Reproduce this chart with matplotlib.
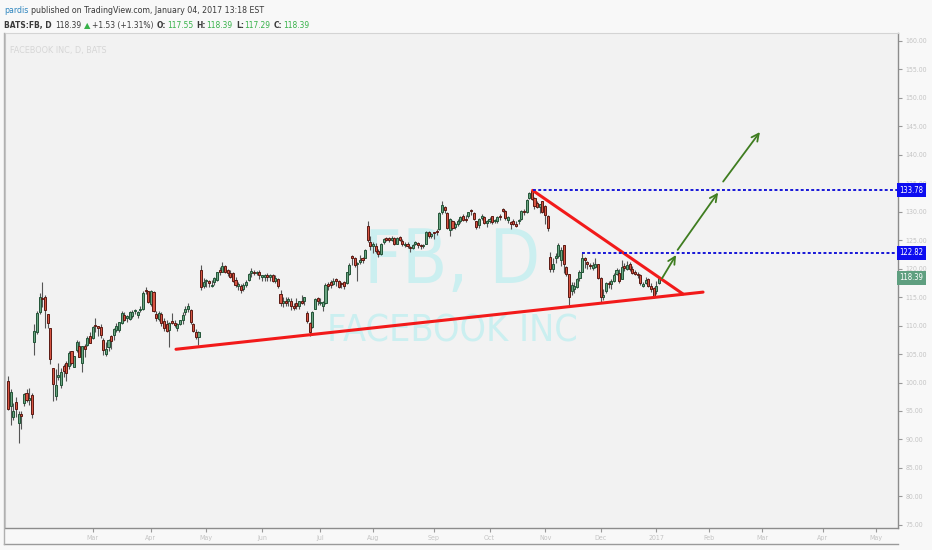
import matplotlib
matplotlib.use("Agg")
import matplotlib.pyplot as plt
from matplotlib import font_manager
from matplotlib.font_manager import FontProperties
from matplotlib.lines import Line2D
import numpy as np

# ---- daily FB candles, 13 Jan 2016 .. 4 Jan 2017 ----
opens = [
    100.3, 95.9, 93.9, 96.5, 92.8, 94.3, 96.4, 98.1, 97.0, 97.8, 107.2, 108.9,  # jan
    112.3, 114.8, 115.1, 112.0, 109.5, 102.5, 97.7, 101.0, 99.5, 102.9, 103.5, 102.9, 105.5, 102.8, 105.7, 106.5, 103.4, 106.5, 106.6, 108.1,  # feb
    107.8, 110.0, 109.9, 109.7, 107.4, 105.0, 106.2, 108.1, 108.3, 109.2, 109.2, 110.5, 111.9, 111.4, 111.1, 111.6, 112.5, 111.9, 112.8, 112.9, 116.3, 116.0,  # mar
    113.8, 115.9, 112.1, 111.2, 112.0, 110.8, 110.2, 109.3, 110.8, 110.5, 109.6, 110.3, 111.0, 112.3, 113.0, 112.8, 110.3, 108.9, 108.0, 119.8, 117.0,  # apr
    117.8, 117.9, 117.0, 117.6, 118.0, 119.6, 119.5, 120.4, 119.8, 119.3, 119.2, 118.0, 117.0, 117.0, 116.4, 117.2, 118.0, 119.2, 119.5, 119.2, 119.5,  # may
    118.5, 118.5, 118.9, 118.6, 118.9, 117.9, 118.1, 115.5, 113.9, 114.3, 114.3, 114.3, 113.5, 114.0, 113.5, 114.4, 114.4, 112.2, 110.5, 109.8, 113.0, 114.9,  # jun
    114.0, 113.5, 113.9, 117.3, 117.6, 117.3, 118.2, 117.9, 117.5, 117.7, 117.4, 119.0, 122.2, 121.9, 120.8, 121.2, 121.9, 121.9, 127.5, 124.7,  # jul
    123.9, 124.0, 123.1, 122.5, 124.7, 125.3, 125.3, 125.1, 125.3, 124.4, 125.6, 124.9, 124.2, 124.4, 123.8, 123.7, 124.3, 124.5, 124.0, 124.0, 124.4, 126.5, 125.8,  # aug
    126.3, 126.7, 127.0, 130.0, 130.9, 129.7, 126.8, 128.3, 127.3, 127.9, 128.4, 129.3, 128.7, 129.3, 130.2, 129.8, 128.3, 127.6, 128.9, 129.1, 128.1,  # sep
    128.4, 129.2, 128.4, 128.4, 129.1, 130.3, 130.2, 128.6, 128.2, 128.3, 127.9, 128.4, 128.8, 130.1, 130.0, 132.5, 133.6, 132.4, 131.5, 130.8, 131.8,  # oct
    131.0, 129.2, 122.0, 119.9, 121.9, 122.2, 121.5, 124.1, 120.3, 119.1, 116.0, 116.4, 116.8, 118.3, 119.5, 121.9, 121.2, 120.5, 120.1, 120.3, 120.8,  # nov
    118.4, 115.1, 116.0, 117.4, 117.3, 117.9, 119.1, 119.3, 118.2, 120.3, 120.0, 120.9, 119.9, 119.5, 119.0, 118.9, 117.0, 117.5, 118.2, 117.0, 116.6,  # dec
    116.0, 117.55,  # jan 2017
]
highs = [
    101.2, 98.9, 96.4, 97.4, 95.0, 95.0, 98.1, 98.8, 99.1, 98.2, 110.3, 112.5,
    115.7, 117.6, 115.3, 112.0, 109.5, 102.6, 102.4, 103.5, 102.6, 103.2, 103.8, 105.5, 105.5, 104.7, 107.4, 107.3, 106.5, 106.8, 108.2, 108.8,
    109.9, 111.3, 110.0, 110.2, 107.8, 107.1, 107.6, 108.4, 109.6, 110.4, 110.7, 112.6, 112.4, 111.9, 112.6, 112.8, 112.9, 112.6, 113.4, 116.0, 116.8, 116.1,
    116.3, 116.1, 112.6, 112.5, 112.3, 111.3, 111.0, 110.6, 112.2, 111.0, 110.5, 111.0, 112.3, 113.4, 114.0, 112.9, 110.5, 109.4, 109.0, 120.7, 118.3,
    118.2, 118.0, 118.0, 118.5, 119.5, 120.3, 121.2, 120.7, 120.0, 119.8, 119.5, 118.5, 117.6, 117.3, 117.4, 118.0, 119.3, 120.1, 119.8, 119.6, 119.8,
    118.9, 119.0, 119.2, 119.0, 119.0, 118.8, 118.3, 116.3, 115.0, 115.1, 115.0, 114.9, 114.0, 114.8, 114.4, 115.3, 115.1, 112.6, 110.6, 112.5, 114.9, 115.1,
    114.9, 114.4, 117.5, 117.6, 118.0, 118.3, 118.4, 118.0, 117.7, 117.8, 119.5, 121.0, 122.4, 122.0, 121.2, 122.4, 122.0, 123.5, 128.3, 125.8,
    124.6, 124.5, 123.4, 124.5, 125.4, 125.6, 125.5, 125.8, 125.6, 125.6, 125.8, 125.2, 124.6, 124.6, 124.0, 124.4, 124.9, 124.7, 124.3, 124.4, 126.7, 126.6, 126.3,
    126.5, 127.0, 129.9, 131.8, 131.0, 129.9, 128.9, 128.5, 128.2, 128.7, 129.2, 129.6, 129.4, 130.0, 130.4, 129.9, 128.4, 128.9, 129.6, 129.3, 128.5,
    129.1, 129.3, 128.8, 129.2, 129.6, 130.7, 130.3, 129.3, 128.4, 128.7, 128.3, 128.8, 130.3, 130.5, 132.2, 133.5, 133.78, 132.6, 131.9, 131.4, 131.9,
    131.1, 129.5, 123.0, 121.9, 122.7, 124.5, 123.8, 124.2, 120.5, 119.1, 117.6, 117.6, 118.3, 119.7, 122.82, 122.0, 121.4, 121.0, 121.2, 121.8, 120.9,
    118.5, 116.5, 117.7, 117.8, 118.2, 119.2, 120.1, 119.9, 121.6, 121.0, 121.3, 121.2, 120.4, 119.8, 119.4, 119.0, 117.6, 118.6, 118.3, 117.5, 116.8,
    117.8, 118.39,
]
lows = [
    95.1, 92.5, 93.5, 93.9, 89.4, 91.9, 95.9, 96.6, 96.1, 93.8, 104.8, 108.6,
    112.0, 113.2, 109.6, 109.6, 103.3, 96.8, 97.0, 100.4, 99.0, 101.0, 100.2, 102.4, 103.1, 102.8, 105.4, 104.4, 101.9, 104.4, 106.4, 106.9,
    107.6, 108.8, 108.1, 107.8, 104.9, 104.6, 105.6, 105.8, 107.5, 108.8, 108.9, 110.3, 110.8, 110.6, 110.9, 111.3, 112.0, 111.3, 112.3, 112.7, 115.6, 113.9,
    113.4, 112.4, 110.8, 110.8, 109.9, 109.0, 108.9, 106.3, 110.2, 109.8, 109.1, 110.1, 110.2, 111.8, 112.3, 110.2, 108.8, 107.7, 106.6, 116.3, 116.6,
    116.7, 116.8, 116.8, 117.2, 117.8, 118.9, 119.4, 119.3, 118.7, 118.3, 117.6, 116.8, 116.3, 115.7, 116.1, 116.8, 117.9, 118.6, 118.9, 118.8, 118.2,
    117.8, 117.9, 117.9, 117.9, 117.6, 117.5, 116.6, 113.5, 113.2, 113.4, 113.5, 112.7, 112.8, 112.9, 113.0, 113.8, 113.6, 110.5, 108.2, 109.5, 112.9, 113.6,
    113.6, 112.6, 113.8, 116.3, 116.6, 117.2, 117.0, 116.6, 116.6, 116.5, 117.3, 118.8, 120.6, 120.3, 117.8, 120.9, 121.0, 121.8, 124.6, 123.3,
    122.7, 122.7, 122.1, 122.4, 124.4, 124.8, 124.7, 124.9, 124.2, 124.3, 124.9, 124.0, 123.8, 123.6, 123.0, 123.4, 124.1, 123.6, 123.4, 123.6, 124.3, 125.4, 125.3,
    125.2, 125.9, 126.8, 129.6, 129.7, 127.0, 125.7, 126.8, 126.9, 127.5, 128.0, 128.4, 128.2, 128.9, 129.5, 128.6, 127.0, 127.2, 128.6, 127.8, 127.4,
    128.1, 127.9, 128.0, 128.1, 128.5, 129.9, 128.6, 128.1, 127.0, 127.6, 127.3, 127.9, 128.6, 129.4, 129.8, 132.2, 132.0, 130.5, 130.6, 129.8, 129.8,
    127.8, 126.6, 119.5, 119.5, 121.0, 121.8, 120.5, 119.2, 118.7, 113.6, 115.3, 115.8, 116.6, 117.9, 119.4, 120.2, 120.0, 119.9, 119.8, 120.2, 118.1,
    114.0, 114.5, 115.8, 116.6, 116.4, 117.6, 118.9, 117.5, 118.1, 119.6, 119.8, 119.6, 119.0, 118.9, 118.3, 117.1, 116.8, 117.3, 116.7, 115.9, 114.8,
    115.5, 117.29,
]
closes = [
    95.4, 98.4, 95.0, 95.3, 94.4, 94.2, 97.9, 97.0, 97.3, 94.5, 109.1, 112.2,
    115.1, 114.6, 112.7, 110.5, 104.1, 99.8, 99.5, 101.3, 101.9, 102.0, 101.6, 105.2, 103.5, 104.6, 107.1, 104.4, 106.5, 105.9, 107.9, 106.9,
    109.8, 109.9, 109.6, 108.4, 105.7, 105.9, 107.5, 107.3, 109.4, 109.9, 110.7, 112.2, 111.0, 111.5, 112.4, 112.3, 112.7, 112.4, 113.0, 115.8, 116.1, 114.1,
    116.1, 112.6, 111.4, 112.2, 110.4, 109.5, 109.0, 110.4, 110.5, 110.1, 110.2, 110.9, 111.9, 113.0, 113.5, 110.6, 109.0, 108.0, 108.9, 116.7, 117.6,
    118.0, 117.4, 117.2, 118.4, 119.5, 119.5, 120.5, 119.5, 119.3, 118.6, 117.9, 117.1, 117.3, 116.3, 117.1, 117.7, 119.0, 119.6, 119.2, 119.4, 118.8,
    118.8, 118.9, 118.5, 118.8, 117.8, 118.4, 116.9, 113.9, 114.4, 113.9, 114.6, 113.5, 113.1, 113.4, 114.4, 114.0, 115.1, 110.8, 108.9, 112.4, 114.6, 114.3,
    114.2, 114.2, 117.2, 116.9, 117.2, 117.9, 117.9, 116.8, 117.3, 116.9, 119.4, 120.6, 121.9, 120.6, 121.0, 121.6, 121.6, 123.3, 125.0, 123.9,
    124.3, 123.1, 122.5, 124.4, 125.2, 125.1, 125.1, 125.4, 124.4, 125.4, 125.1, 124.4, 124.4, 124.0, 123.6, 124.2, 124.7, 124.1, 123.9, 124.1, 126.5, 125.8, 126.1,
    126.2, 126.5, 129.7, 131.1, 130.3, 127.1, 128.7, 127.2, 127.8, 128.4, 129.1, 128.6, 128.6, 129.9, 130.1, 128.7, 127.3, 128.7, 129.2, 128.1, 128.3,
    128.8, 128.2, 128.5, 129.1, 129.0, 130.2, 128.9, 129.0, 127.8, 127.9, 127.5, 128.6, 130.1, 130.0, 132.1, 133.3, 132.3, 131.0, 130.9, 131.3, 130.0,
    129.5, 127.2, 120.0, 120.8, 122.2, 124.2, 123.2, 120.8, 119.0, 115.1, 117.2, 116.9, 118.1, 119.4, 121.8, 121.5, 120.8, 120.4, 120.6, 120.9, 118.4,
    115.1, 115.4, 117.4, 117.3, 117.9, 118.9, 119.7, 117.8, 120.3, 120.2, 120.6, 119.9, 119.2, 119.1, 118.8, 117.4, 117.3, 118.0, 116.9, 116.4, 115.1,
    116.9, 118.39,
]

# time axis: bar index of each month start (future part counted in weekdays)
month_ticks = [32, 54, 75, 96, 118, 138, 161, 182, 203, 224, 245, 265, 285, 308, 328]
month_labels = ["Mar", "Apr", "May", "Jun", "Jul", "Aug", "Sep", "Oct", "Nov", "Dec",
                "2017", "Feb", "Mar", "Apr", "May"]
price_ticks = list(range(75, 161, 5))

# drawings (bar index, price)
support_line = [(63.5, 105.84), (262.7, 115.88)]
resist_line = [(198.3, 133.75), (255.1, 115.56)]
levels = [(198.3, 133.78), (216.8, 122.82)]
arrows = [((247.2, 118.3), (252.5, 122.4)),
          ((253.1, 123.3), (268.4, 133.36)),
          ((270.3, 135.3), (284.2, 144.0))]
last_price = 118.39

W, H = 932, 550


def pick_font(bold):
    # a narrow sans if one is installed, else plain Liberation Sans
    best, best_score = None, -1
    for f in font_manager.fontManager.ttflist:
        nm = f.name
        st = str(f.stretch)
        narrow = ("Narrow" in nm or "Condensed" in nm or
                  st in ("condensed", "semi-condensed", "extra-condensed"))
        if not narrow or "Mono" in nm or "Serif" in nm or f.style != "normal":
            continue
        w = f.weight if isinstance(f.weight, int) else \
            {"bold": 700, "normal": 400, "regular": 400, "book": 400}.get(str(f.weight), 400)
        if (w >= 600) != bold or w < 350:
            continue
        score = 3 if "Liberation" in nm else (2 if "DejaVu" in nm else 1)
        if score > best_score:
            best, best_score = f.fname, score
    if best:
        return FontProperties(fname=best)
    return FontProperties(family="Liberation Sans", weight="bold" if bold else "normal")


fp_reg = pick_font(False)
fp_bold = pick_font(True)
fp_sym = FontProperties(family="DejaVu Sans")

fig = plt.figure(figsize=(W / 100, H / 100), dpi=100, facecolor="#f8f8f8")
renderer = fig.canvas.get_renderer()


def fit_size(s, fp, target):
    t = fig.text(0, 0, s, fontproperties=fp, fontsize=10)
    w = t.get_window_extent(renderer=renderer).width
    t.remove()
    return 10 * target / w


ax = fig.add_axes([5 / W, 22 / H, 892.5 / W, 495 / H], facecolor="#f2f2f2")
fig.patches.append(plt.Rectangle((5 / W, 22 / H), 892.5 / W, 495 / H, transform=fig.transFigure,
                                 facecolor="#f2f2f2", edgecolor="none", zorder=-1))

# watermark
fig.text(452 / W, 1 - 283 / H, "FB, D", fontproperties=fp_reg,
         fontsize=fit_size("FB, D", fp_reg, 176), color="#cbeff0",
         ha="center", va="baseline", zorder=0)
fig.text(452 / W, 1 - 342 / H, "FACEBOOK INC", fontproperties=fp_reg,
         fontsize=fit_size("FACEBOOK INC", fp_reg, 250), color="#cbeff0",
         ha="center", va="baseline", zorder=0)
ax.set_zorder(1)
ax.patch.set_alpha(0.0)

# candles
x = np.arange(len(closes))
o, h, l, c = map(np.array, (opens, highs, lows, closes))
up = c >= o
ax.vlines(x, l, h, color="#555555", lw=0.8, zorder=2)
body_lo = np.minimum(o, c)
body_h = np.maximum(np.abs(c - o), 0.2)
ax.bar(x[up], body_h[up], bottom=body_lo[up], width=0.78, color="#6ba583",
       edgecolor="#225437", lw=0.7, zorder=3)
ax.bar(x[~up], body_h[~up], bottom=body_lo[~up], width=0.78, color="#d75442",
       edgecolor="#5b1a13", lw=0.7, zorder=3)

# trend lines
for ln in (support_line, resist_line):
    ax.plot([p[0] for p in ln], [p[1] for p in ln], color="#f21a1a", lw=2.2,
            solid_capstyle="round", zorder=4)
for x0, lvl in levels:
    ax.plot([x0, 340], [lvl, lvl], color="#1515d8", lw=1.4, ls=(0, (1.5, 1.2)), zorder=4,
            clip_on=False)
for (xa, ya), (xb, yb) in arrows:
    ax.annotate("", xy=(xb, yb), xytext=(xa, ya),
                arrowprops=dict(arrowstyle="->", color="#3f7d20", lw=1.3,
                                mutation_scale=13, shrinkA=0, shrinkB=0), zorder=5)

ax.set_xlim(-1.13, 336.2)
ax.set_ylim(74.44, 161.4)

# axes styling
tick_size = fit_size("160.00", fp_reg, 22)
ax.yaxis.tick_right()
ax.set_yticks(price_ticks)
ax.set_yticklabels([f"{v:.2f}" for v in price_ticks])
ax.set_xticks(month_ticks)
ax.set_xticklabels(month_labels)
ax.tick_params(axis="y", length=3, width=0.8, color="#999999", labelcolor="#c4c4c4", pad=3)
ax.tick_params(axis="x", length=3, width=0.8, color="#999999", labelcolor="#c4c4c4", pad=2)
for lab in ax.get_xticklabels() + ax.get_yticklabels():
    lab.set_fontproperties(fp_reg)
    lab.set_fontsize(tick_size)
for side in ("right", "bottom"):
    ax.spines[side].set_color("#8c8c8c")
    ax.spines[side].set_linewidth(1.0)
ax.spines["left"].set_color("#c8c8c8")
ax.spines["top"].set_color("#d4d4d4")
for s in ax.spines.values():
    s.set_zorder(6)

# price labels on the scale
box_size = fit_size("133.78", fp_reg, 24)
for val, bg in ((133.78, "#0d0df0"), (122.82, "#0d0df0"), (last_price, "#5f9f80")):
    ax.text(1.002, val, f"{val:.2f}", transform=ax.get_yaxis_transform(), ha="left",
            va="center", fontproperties=fp_reg, fontsize=box_size, color="white", zorder=7,
            bbox=dict(boxstyle="square,pad=0.32", fc=bg, ec="none"))

# outer frame of the time scale
fig.add_artist(Line2D([4 / W, 897.5 / W], [1 - 544 / H, 1 - 544 / H],
                      transform=fig.transFigure, color="#9a9a9a", lw=1))
fig.add_artist(Line2D([4 / W, 4 / W], [1 - 544 / H, 1 - 33 / H],
                      transform=fig.transFigure, color="#b0b0b0", lw=1))

# header
fig.text(10 / W, 1 - 53 / H, "FACEBOOK INC, D, BATS", fontproperties=fp_reg,
         fontsize=fit_size("FACEBOOK INC, D, BATS", fp_reg, 97), color="#d6d6d6",
         ha="left", va="baseline")


def segments(x0, y0, parts, target):
    # draw, measure, then redraw at the size that gives the target width
    size = 8.0
    for attempt in range(2):
        drawn = []
        xp = x0
        for s, col, fp, gap in parts:
            t = fig.text(xp / W, 1 - y0 / H, s, color=col, fontproperties=fp, fontsize=size,
                         ha="left", va="baseline")
            drawn.append(t)
            xp += t.get_window_extent(renderer=renderer).width + gap
        if attempt == 0:
            for t in drawn:
                t.remove()
            size = size * (target - x0) / (xp - x0)


dark = "#3a3a3a"
green = "#37b24a"
segments(4, 13, [("pardis", "#2f86bf", fp_reg, 2.5),
                 ("published on TradingView.com, January 04, 2017 13:18 EST", dark, fp_reg, 0)],
         265)
segments(4, 28, [("BATS:FB, D", dark, fp_bold, 4),
                 ("118.39", dark, fp_reg, 2),
                 ("\u25b2", green, fp_sym, 1.5),
                 ("+1.53 (+1.31%)", dark, fp_reg, 3.5),
                 ("O:", dark, fp_bold, 0.5), ("117.55", green, fp_reg, 3.5),
                 ("H:", dark, fp_bold, 0.5), ("118.39", green, fp_reg, 3.5),
                 ("L:", dark, fp_bold, 0.5), ("117.29", green, fp_reg, 3.5),
                 ("C:", dark, fp_bold, 0.5), ("118.39", green, fp_reg, 0)],
         303)

fig.savefig("out.png", dpi=100, facecolor=fig.get_facecolor())
